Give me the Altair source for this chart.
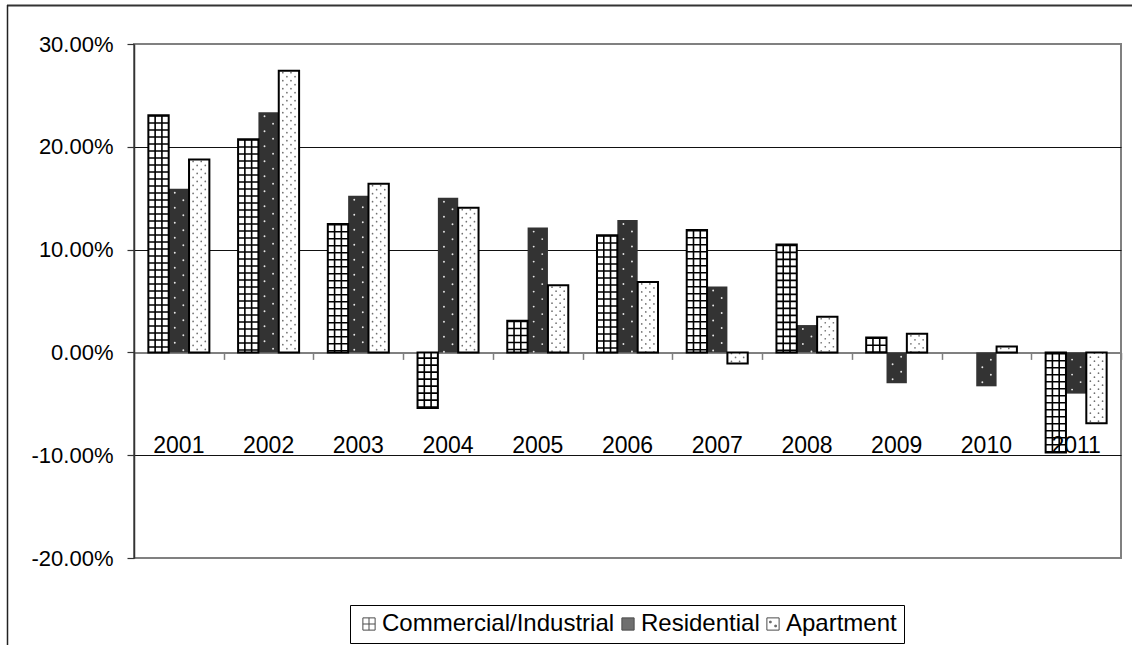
import altair as alt
import pandas as pd

# Annual change by property class
years = ["2001", "2002", "2003", "2004", "2005", "2006", "2007", "2008", "2009", "2010", "2011"]
series_names = ["Commercial/Industrial", "Residential", "Apartment"]
commercial = [23.07, 20.74, 12.49, -5.40, 3.08, 11.40, 11.91, 10.49, 1.46, 0.00, -9.74]
residential = [15.92, 23.36, 15.24, 15.05, 12.14, 12.88, 6.41, 2.66, -3.00, -3.30, -4.01]
apartment = [18.77, 27.41, 16.41, 14.08, 6.54, 6.86, -1.07, 3.47, 1.81, 0.58, -6.89]
y_ticks = [-0.2, -0.1, 0.0, 0.1, 0.2, 0.3]

W, H = 987, 514
GROUP = 0.68          # share of each year slot covered by its three bars
BAR = GROUP / 3       # one bar, in slot units
BAR_PX = W / len(years) * BAR
FONT = "Liberation Sans"

records = []
for i, yr in enumerate(years):
    for s, vals in enumerate((commercial, residential, apartment)):
        records.append({"year": yr, "idx": i, "s": s,
                        "series": series_names[s], "value": vals[i] / 100})
df = pd.DataFrame(records)

x_scale = alt.Scale(domain=[0, len(years)], nice=False, zero=False)
y_scale = alt.Scale(domain=[-0.2, 0.3], nice=False, zero=False)

# category axis sits on the zero line, ticks at slot boundaries
x_axis = alt.Axis(values=list(range(len(years) + 1)), labels=False, grid=False,
                  ticks=True, tickSize=7, tickColor="#808080", tickWidth=1.5,
                  domain=True, domainColor="#808080", domainWidth=2,
                  offset=-H * 0.2 / 0.5, title=None)
y_axis = alt.Axis(values=y_ticks,
                  labelExpr="replace(format(datum.value, '.2%'), '\u2212', '-')",
                  labelFont=FONT, labelFontSize=22, labelColor="black",
                  labelPadding=14, tickSize=7, tickColor="#333333", tickWidth=1.2,
                  domainColor="#333333", domainWidth=1.5,
                  grid=True, gridWidth=1.2,
                  gridColor={"condition": {"test": "datum.value == 0.1 || datum.value == 0.2 || datum.value == -0.1",
                                           "value": "#111111"},
                             "value": "#808080"},
                  title=None)


def X(field):
    return alt.X(field, type="quantitative", scale=x_scale, axis=x_axis, title=None)


def Y():
    return alt.Y("value:Q", scale=y_scale, axis=y_axis, title=None)


grid_path = "M-1,-1H1V1H-1Z M0,-1V1 M-1,0H1"
dots_path = "M-1,-1H1V1H-1Z M-0.55,-0.45H-0.3V-0.2H-0.55Z M0.3,0.2H0.55V0.45H0.3Z"

legend_def = alt.Legend(title=None, orient="none", legendX=216, legendY=561,
                        direction="horizontal", strokeColor="black", fillColor="white",
                        padding=7, labelFont=FONT, labelFontSize=24, labelColor="black",
                        labelLimit=0,
                        symbolSize=150, symbolStrokeColor="black", symbolStrokeWidth=1,
                        columnPadding=1, labelOffset=1)
fill_enc = alt.Fill("series:N",
                    scale=alt.Scale(domain=series_names, range=["#ffffff", "#333333", "#ffffff"]),
                    legend=legend_def)

base = (alt.Chart(df)
        .transform_filter("datum.value != 0")
        .transform_calculate(x0=f"datum.idx + {(1 - GROUP) / 2} + datum.s * {BAR}")
        .transform_calculate(x1=f"datum.x0 + {BAR}"))

bars = base.mark_bar(strokeWidth=0).encode(
    x=X("x0"), x2="x1:Q", y=Y(), y2=alt.datum(0), fill=fill_enc)


def stripe(series_idx, frac, color, width, dash=None, dash_offset=0, cap="butt"):
    props = dict(color=color, strokeWidth=width, strokeCap=cap)
    if dash:
        props["strokeDash"] = dash
        props["strokeDashOffset"] = dash_offset
    return (base.transform_filter(f"datum.s == {series_idx}")
            .transform_calculate(xp=f"datum.x0 + {frac * BAR}")
            .mark_rule(**props)
            .encode(x=X("xp"), y=Y(), y2=alt.datum(0)))


pattern = []
# commercial: square grid
pattern.append(stripe(0, 0.5, "black", BAR_PX, [1.6, 5.4]))
pattern.append(stripe(0, 1 / 3, "black", 1.6))
pattern.append(stripe(0, 2 / 3, "black", 1.6))
# residential: sparse light dots on dark fill
pattern.append(stripe(1, 0.3, "#e6e6e6", 1.9, [0.01, 14.99], 11, "round"))
pattern.append(stripe(1, 0.72, "#e6e6e6", 1.9, [0.01, 14.99], 3.5, "round"))
# apartment: staggered grey dots
for k, frac in enumerate((0.2, 0.4, 0.6, 0.8)):
    pattern.append(stripe(2, frac, "#707070", 1.7, [0.01, 7.99], 6 if k % 2 == 0 else 2, "round"))

outlines = (base.transform_filter("datum.s != 1")
            .mark_bar(fillOpacity=0, stroke="black", strokeWidth=2)
            .encode(x=X("x0"), x2="x1:Q", y=Y(), y2=alt.datum(0)))

labels = (alt.Chart(pd.DataFrame({"year": years, "idx": list(range(len(years)))}))
          .transform_calculate(xm="datum.idx + 0.5")
          .mark_text(font=FONT, fontSize=23, color="black", baseline="middle")
          .encode(x=X("xm"), y=alt.value(402), text="year:N"))

legend_layer = (alt.Chart(df).transform_filter("false")
                .mark_point(filled=True)
                .encode(shape=alt.Shape("series:N",
                                        scale=alt.Scale(domain=series_names,
                                                        range=[grid_path, "square", dots_path]),
                                        legend=legend_def),
                        fill=fill_enc))

one = pd.DataFrame({"k": [0]})
frame_top = alt.Chart(one).mark_rule(color="#333333", strokeWidth=2).encode(
    x=alt.value(-127), x2=alt.value(W + 11), y=alt.value(-38.5))
frame_left = alt.Chart(one).mark_rule(color="#222222", strokeWidth=1.5).encode(
    x=alt.value(-126.5), y=alt.value(-39), y2=alt.value(H + 87))

chart = (alt.layer(bars, *pattern, outlines, labels, legend_layer, frame_top, frame_left)
         .properties(width=W, height=H,
                     padding={"left": 134, "top": 44, "right": 11, "bottom": 87},
                     autosize=alt.AutoSizeParams(type="none"))
         .configure_view(stroke="#808080", strokeWidth=2))

chart.save("out.html", embed_options={"renderer": "svg", "actions": False})
